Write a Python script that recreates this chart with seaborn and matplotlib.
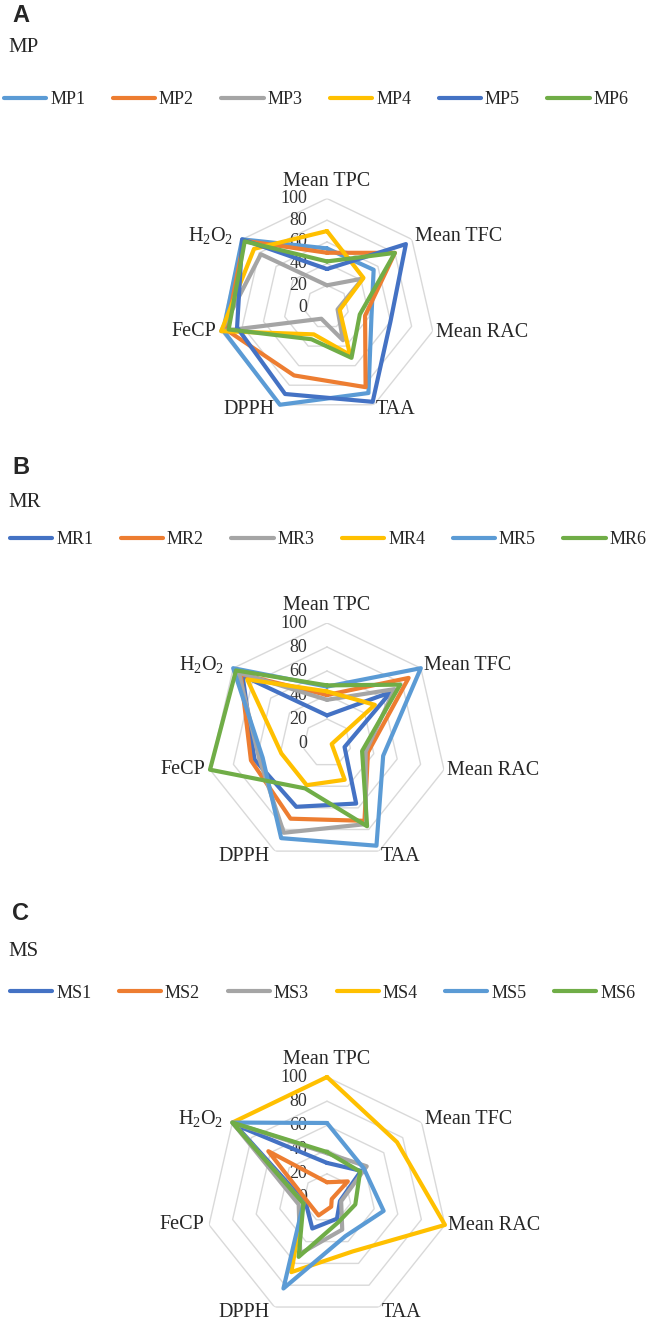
import numpy as np
import pandas as pd
import matplotlib
matplotlib.use("Agg")
import matplotlib.pyplot as plt
import seaborn as sns
from matplotlib.transforms import offset_copy

sns.set_style("white")
plt.rcParams["font.family"] = ["Liberation Serif", "DejaVu Serif"]
plt.rcParams["mathtext.fontset"] = "custom"
plt.rcParams["mathtext.rm"] = "Liberation Serif"
plt.rcParams["mathtext.it"] = "Liberation Serif:italic"

# Radar axes, clockwise from the top
categories = ["Mean TPC", "Mean TFC", "Mean RAC", "TAA", "DPPH", "FeCP", "H$_2$O$_2$"]
ticks = [0, 20, 40, 60, 80, 100]

# Excel-like colours
c_lblue = "#5B9BD5"
c_orange = "#ED7D31"
c_gray = "#A5A5A5"
c_yellow = "#FFC000"
c_blue = "#4472C4"
c_green = "#70AD47"

# Panel A - MP
mp_names = ["MP1", "MP2", "MP3", "MP4", "MP5", "MP6"]
mp1 = [54, 55, 42, 88, 100, 98, 100]
mp2 = [50, 80, 36, 82, 70, 95, 98]
mp3 = [20, 42, 10, 34, 12, 100, 78]
mp4 = [70, 43, 12, 49, 28, 100, 86]
mp5 = [35, 93, 60, 97, 89, 85, 100]
mp6 = [42, 80, 31, 52, 33, 93, 97]
mp_colors = [c_lblue, c_orange, c_gray, c_yellow, c_blue, c_green]

# Panel B - MR
mr_names = ["MR1", "MR2", "MR3", "MR4", "MR5", "MR6"]
mr1 = [23, 68, 15, 56, 59, 62, 90]
mr2 = [40, 87, 35, 72, 70, 65, 92]
mr3 = [36, 72, 33, 75, 83, 58, 94]
mr4 = [43, 51, 4, 34, 39, 39, 85]
mr5 = [47, 100, 48, 95, 88, 55, 100]
mr6 = [48, 78, 30, 77, 42, 100, 97]
mr_colors = [c_blue, c_orange, c_gray, c_yellow, c_lblue, c_green]

# Panel C - MS
ms_names = ["MS1", "MS2", "MS3", "MS4", "MS5", "MS6"]
ms1 = [29, 36, 11, 19, 28, 18, 97]
ms2 = [13, 22, 4, 8, 16, 16, 62]
ms3 = [37, 42, 12, 29, 51, 24, 100]
ms4 = [100, 74, 100, 49, 68, 20, 100]
ms5 = [62, 39, 48, 35, 83, 20, 100]
ms6 = [38, 35, 24, 22, 54, 20, 100]
ms_colors = [c_blue, c_orange, c_gray, c_yellow, c_lblue, c_green]

W, H = 660, 1319
fig = plt.figure(figsize=(W / 100, H / 100), dpi=100)

# label placement around the outer ring: (dx, dy, ha) in pixels
label_offsets = [(0, 17, "center"), (3, 3, "left"), (3, -1, "left"), (2, -5, "left"),
                 (-5, -5, "right"), (-5, 0, "right"), (-9, 4, "right")]


def radar(letter, title, names, series, colors, cy, R, y_letter, y_title, y_leg, x_leg):
    cx = 327
    ax = fig.add_axes([(cx - R) / W, 1 - (cy + R) / H, 2 * R / W, 2 * R / H], projection="polar")
    ax.set_theta_offset(np.pi / 2)
    ax.set_theta_direction(-1)
    n = len(categories)
    theta = np.linspace(0, 2 * np.pi, n, endpoint=False)
    theta_c = np.append(theta, 2 * np.pi)

    # heptagon grid
    for t in ticks[1:]:
        ax.plot(theta_c, [t] * (n + 1), color="#D9D9D9", lw=1.0, zorder=1)

    rows = []
    for name, vals in zip(names, series):
        for th, v in zip(theta_c, list(vals) + [vals[0]]):
            rows.append((name, th, v))
    df = pd.DataFrame(rows, columns=["sample", "theta", "value"])
    sns.lineplot(data=df, x="theta", y="value", hue="sample", hue_order=names,
                 palette=colors, sort=False, estimator=None, lw=3.0, ax=ax, legend=False)
    data_lines = ax.lines[-len(names):]
    for ln in data_lines:
        ln.set_clip_on(False)
        ln.set_zorder(3)

    ax.set_ylim(0, 100)
    ax.set_xticks([])
    ax.set_yticks([])
    ax.grid(False)
    ax.spines["polar"].set_visible(False)
    ax.set_facecolor("none")
    ax.set_xlabel("")
    ax.set_ylabel("")

    # radial tick labels
    tr = offset_copy(ax.transData, fig=fig, x=-20, y=0, units="dots")
    for t in ticks:
        ax.text(0, t, str(t), transform=tr, ha="right", va="center",
                fontsize=13, color="#333333", zorder=2)

    # category labels
    for th, lab, (dx, dy, ha) in zip(theta, categories, label_offsets):
        ax.text(th, 100, lab, transform=offset_copy(ax.transData, fig=fig, x=dx, y=dy, units="dots"),
                ha=ha, va="center", fontsize=14.5, color="#262626")

    fig.text(12 / W, 1 - y_letter / H, letter, family="Liberation Sans", fontweight="bold",
             fontsize=17, ha="left", va="center")
    fig.text(8 / W, 1 - y_title / H, title, fontsize=15, ha="left", va="center", color="#262626")
    leg = fig.legend(data_lines, names, loc="center left", bbox_to_anchor=(x_leg / W, 1 - y_leg / H),
                     ncol=6, frameon=False, fontsize=13, handlelength=2.33, handletextpad=0.22,
                     columnspacing=1.53, borderpad=0, borderaxespad=0)
    for txt in leg.get_texts():
        txt.set_color("#262626")


radar("A", "MP", mp_names, [mp1, mp2, mp3, mp4, mp5, mp6], mp_colors,
      cy=307, R=108.5, y_letter=15, y_title=47, y_leg=100, x_leg=4)
radar("B", "MR", mr_names, [mr1, mr2, mr3, mr4, mr5, mr6], mr_colors,
      cy=743, R=120, y_letter=468, y_title=502, y_leg=540, x_leg=10)
radar("C", "MS", ms_names, [ms1, ms2, ms3, ms4, ms5, ms6], ms_colors,
      cy=1198, R=121, y_letter=913, y_title=951, y_leg=993, x_leg=10)

fig.savefig("out.png", dpi=100)
